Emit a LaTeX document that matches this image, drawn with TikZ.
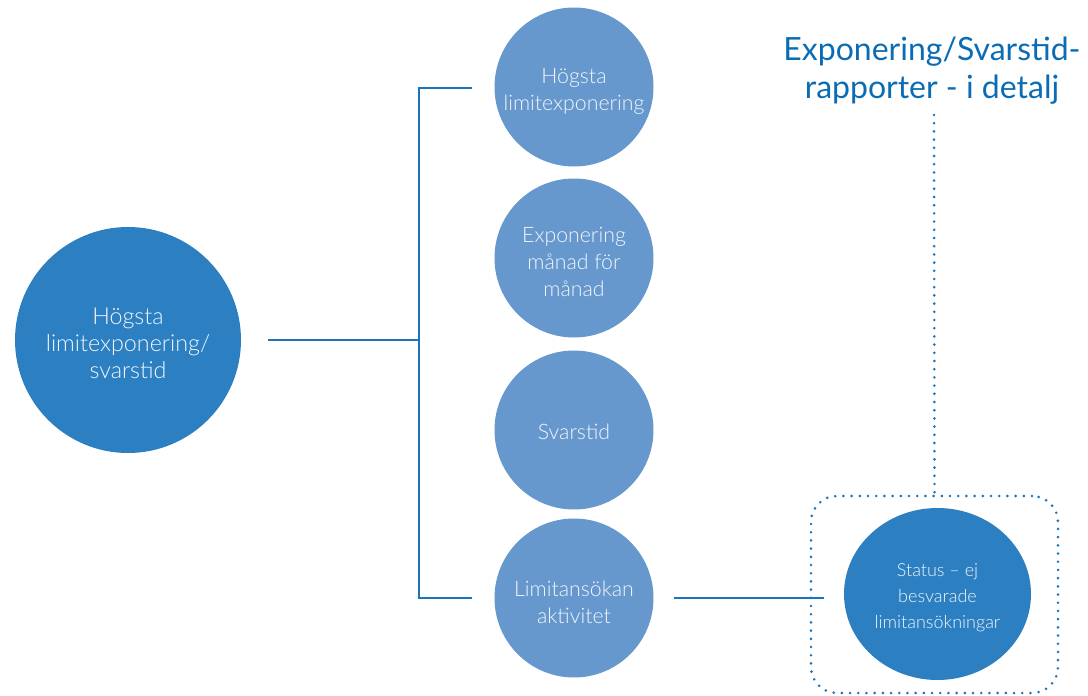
\documentclass[tikz,border=0pt]{standalone}
\usepackage{fontspec}
\setmainfont{Lato}[UprightFont={* Light}]
\newfontfamily\titlefont{Lato}
\usetikzlibrary{shapes.geometric}
\definecolor{bigblue}{HTML}{2C80C2}
\definecolor{lightblue}{HTML}{6698CD}
\definecolor{linecol}{HTML}{1C74BA}
\definecolor{titlecol}{HTML}{0A6CB4}
\definecolor{txt}{HTML}{F2F6FB}
\tikzset{
  bigcirc/.style={circle, fill=bigblue, minimum size=226pt, inner sep=0pt},
  smallcirc/.style={circle, fill=lightblue, minimum size=159pt, inner sep=0pt},
  statuscirc/.style={ellipse, fill=bigblue, minimum width=187pt, minimum height=172pt, inner sep=0pt},
  bigtext/.style={text=txt, align=center, inner sep=0pt, font=\fontsize{23.3}{26.7}\selectfont},
  smalltext/.style={text=txt, align=center, inner sep=0pt, font=\fontsize{21.3}{27}\selectfont},
  statustext/.style={text=txt, align=center, inner sep=0pt, font=\fontsize{18}{26}\selectfont},
  conn/.style={draw=linecol, line width=1.6pt},
  dotline/.style={draw=linecol, line width=2.9pt, line cap=round, dash pattern=on 0pt off 8.2pt},
  dotbox/.style={rectangle, rounded corners=26pt, minimum width=247pt, minimum height=197pt, dotline},
  titletext/.style={text=titlecol, align=center, font=\titlefont\fontsize{32}{38}\selectfont}
}
\begin{document}
\begin{tikzpicture}[x=1pt,y=-1pt]
\useasboundingbox (0,0) rectangle (1088,696);
\node[bigcirc] (big) at (128,340) {};
\node[bigtext] (bigt) at ([yshift=-3.5pt]big.center) {Högsta\\limitexponering/\\svarstid};
\node[smallcirc] (c1) at (574,87) {};
\node[smalltext] (c1t) at ([yshift=-4pt]c1.center) {Högsta\\limitexponering};
\node[smallcirc] (c2) at (574,258) {};
\node[smalltext] (c2t) at ([yshift=-3.5pt]c2.center) {Exponering\\månad för\\månad};
\node[smallcirc] (c3) at (574,430) {};
\node[smalltext] (c3t) at ([yshift=-2pt]c3.center) {Svarstid};
\node[smallcirc] (c4) at (574,598) {};
\node[smalltext] (c4t) at ([yshift=-4pt]c4.center) {Limitansökan\\aktivitet};
\node[dotbox] (box) at (934.5,594.5) {};
\node[statuscirc] (status) at (937.5,594) {};
\node[statustext] (statust) at ([yshift=-3.5pt]status.center) {Status – ej\\besvarade\\limitansökningar};
\node[titletext] (title) at (932,71) {Exponering/Svarstid-\\rapporter - i detalj};
\coordinate (jm) at (419,340);
\coordinate (jt) at (419,88);
\coordinate (jb) at (419,598);
\draw[conn] ([xshift=27pt]big.east) -- (jm);
\draw[conn] ([xshift=-22pt]c1.west |- jt) -- (jt) -- (jb) -- ([xshift=-22pt]c4.west |- jb);
\draw[conn] ([xshift=20pt]c4.east) -- ([xshift=14pt]box.west |- c4.east);
\coordinate (dtop) at (934,115);
\draw[dotline] (dtop) -- (box.north);
\end{tikzpicture}
\end{document}
